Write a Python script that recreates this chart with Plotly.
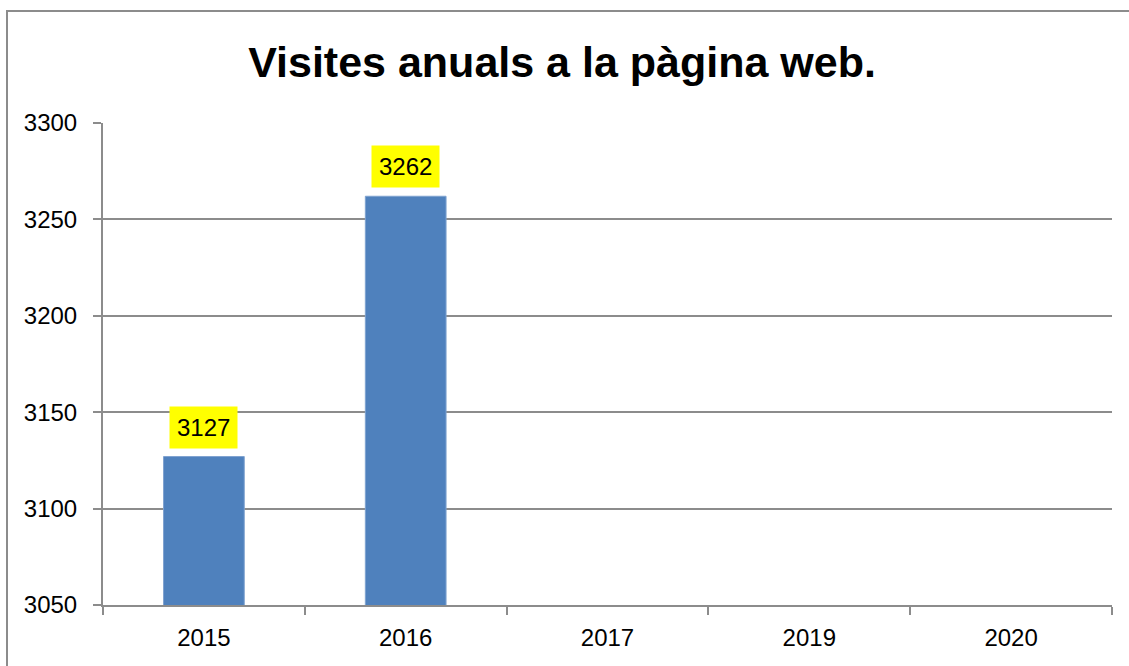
import plotly.graph_objects as go

categories = ["2015", "2016", "2017", "2019", "2020"]
visits = [3127, 3262, None, None, None]
y_ticks = [3050, 3100, 3150, 3200, 3250, 3300]
title_text = "Visites anuals a la pàgina web."

W, H = 1129, 666
L, R, T, B = 103, 17, 123, 61
pw, ph = W - L - R, H - T - B

fig = go.Figure()
fig.add_trace(go.Bar(
    x=categories, y=visits,
    marker=dict(color="#4F81BD", line=dict(color="#7FA3D0", width=1)),
    width=0.4,
))

for i, v in enumerate(visits):
    if v is None:
        continue
    fig.add_annotation(
        x=i, y=v, text=str(v), showarrow=False,
        yanchor="bottom", yshift=8,
        bgcolor="#FFFF00", borderpad=7,
        font=dict(family="Liberation Sans", size=24, color="black"),
    )

# outer chart border
fig.add_shape(
    type="rect", xref="paper", yref="paper",
    x0=(7 - L) / pw, x1=(W + 20 - L) / pw,
    y0=-(H + 20 - T - ph) / ph, y1=1 + (T - 11) / ph,
    line=dict(color="#8C8C8C", width=2), fillcolor="rgba(0,0,0,0)",
    layer="below",
)

fig.update_layout(
    width=W, height=H,
    margin=dict(l=L, r=R, t=T, b=B),
    paper_bgcolor="white", plot_bgcolor="white",
    showlegend=False,
    title=dict(text="<b>" + title_text + "</b>", x=562 / W, xref="container", xanchor="center",
               y=1 - 62 / H, yref="container", yanchor="middle",
               font=dict(family="Liberation Sans", size=43, color="black")),
    font=dict(family="Liberation Sans", size=24, color="black"),
    xaxis=dict(
        type="category", categoryorder="array", categoryarray=categories,
        showline=True, linecolor="#8C8C8C", linewidth=2,
        ticks="outside", tickson="boundaries", ticklen=8, tickwidth=2, tickcolor="#8C8C8C",
        showgrid=False, ticklabelstandoff=10,
        range=[-0.5, len(categories) - 0.5],
    ),
    yaxis=dict(
        range=[3050, 3300], tickvals=y_ticks,
        showline=True, linecolor="#8C8C8C", linewidth=2,
        ticks="outside", ticklen=8, tickwidth=2, tickcolor="#8C8C8C",
        showgrid=True, gridcolor="#8C8C8C", gridwidth=1.5,
        zeroline=False, ticklabelstandoff=11,
    ),
)

fig.write_html("out.html", config={"displayModeBar": False},
               post_script="document.body.style.margin='0';")
